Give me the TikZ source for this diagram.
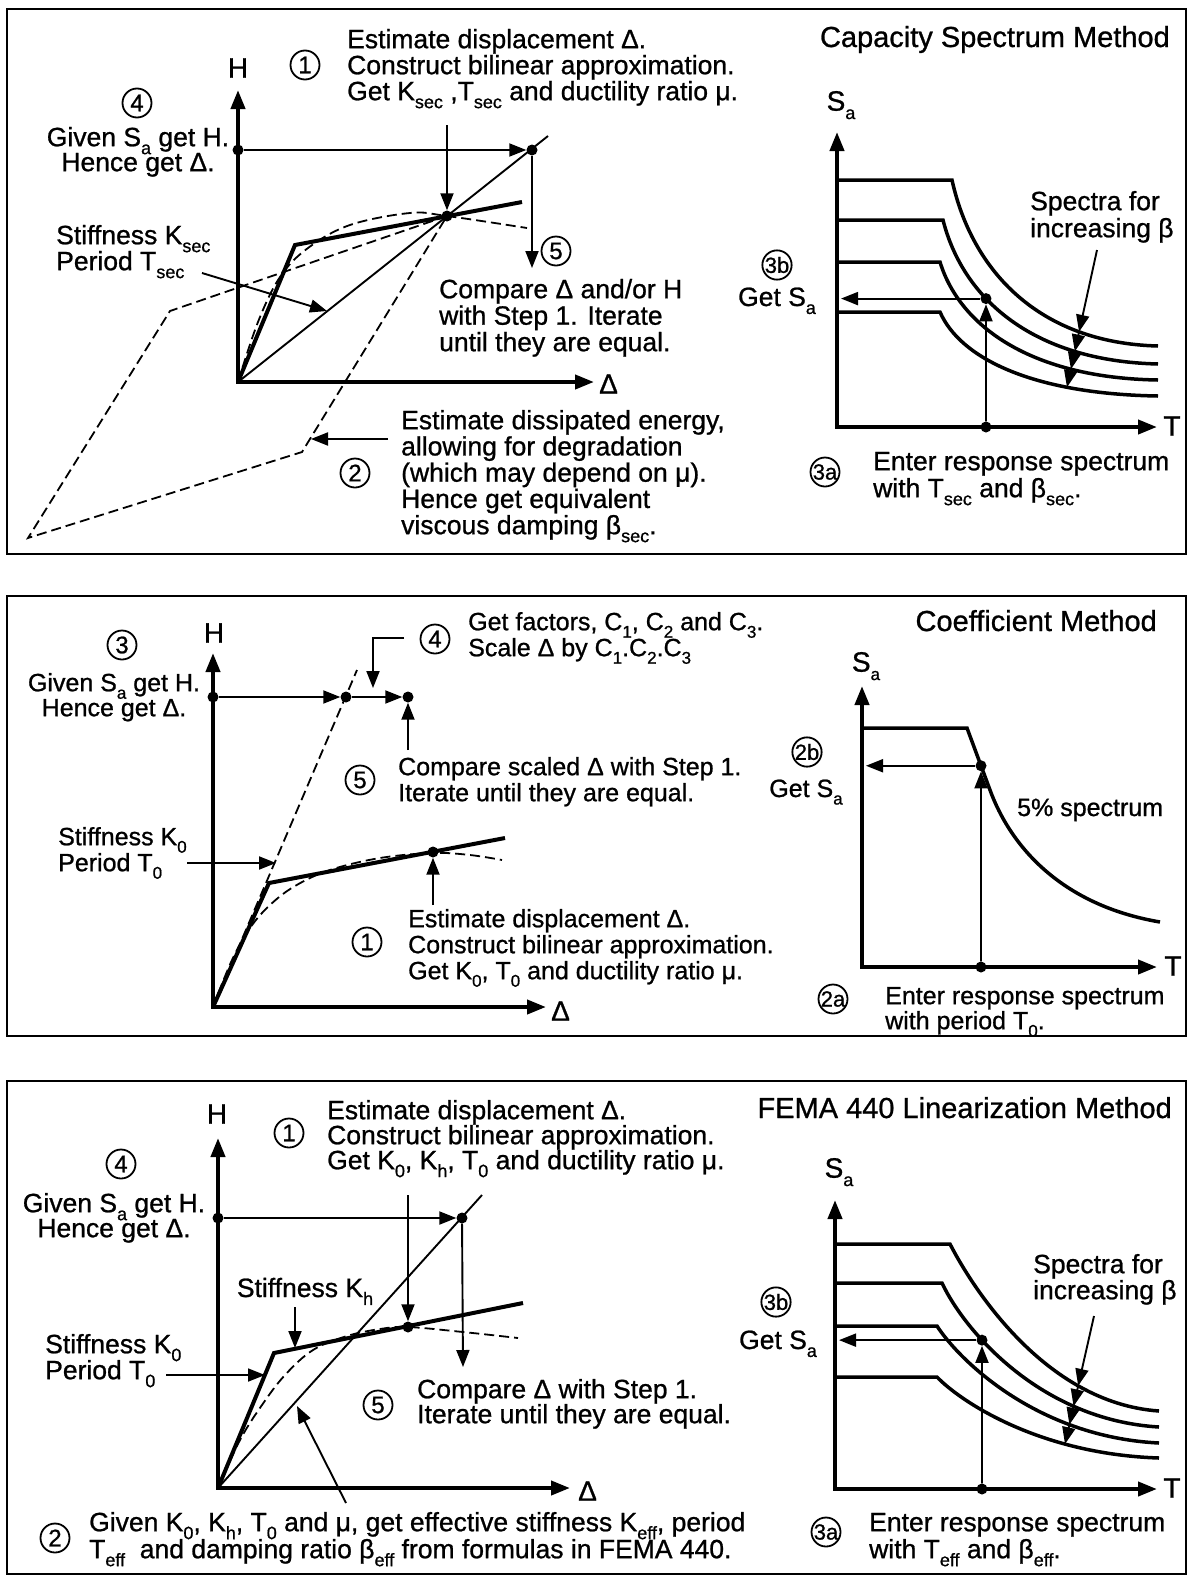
\documentclass[tikz,border=0pt]{standalone}
\usepackage{fontspec}
\setmainfont{Liberation Sans}[FakeBold=0.9]
\usetikzlibrary{arrows.meta,intersections}
\def\tsz{26.5}
\def\ssz{18}
\newcommand\sbs[1]{\raisebox{-0.3em}[0pt][0pt]{\fontsize{\ssz}{\ssz}\selectfont #1}}
\newcommand\st{\rule{0pt}{20pt}}
\begin{document}
\begin{tikzpicture}[x=1pt,y=-1pt,
  frame/.style={line width=2.2pt},
  axis/.style={line width=4pt,line join=miter,{Triangle[length=19pt,width=14pt]}-{Triangle[length=19pt,width=14pt]}},
  arr/.style={line width=1.9pt,-{Triangle[length=17pt,width=13pt]}},
  thinl/.style={line width=1.9pt},
  bil/.style={line width=4pt,line join=miter},
  dsh/.style={line width=1.8pt,dash pattern=on 10pt off 5pt},
  spec/.style={line width=3.5pt},
  dot/.style={circle,fill=black,inner sep=0pt,minimum size=11pt},
  cnum/.style={circle,draw,line width=1.8pt,inner sep=0pt,minimum size=29pt,font=\fontsize{24}{24}\selectfont},
  cnum2/.style={cnum,font=\fontsize{22}{22}\selectfont},
  txt/.style={font=\fontsize{\tsz}{26}\selectfont,inner sep=0pt},
  blk/.style={inner sep=0pt,align=left,anchor=north west,font=\fontsize{\tsz}{#1}\selectfont},
  cblk/.style={inner sep=0pt,align=center,anchor=north,font=\fontsize{\tsz}{#1}\selectfont},
  albl/.style={font=\fontsize{28}{28}\selectfont,inner sep=0pt},
  ttl/.style={font=\fontsize{29}{30}\selectfont,inner sep=0pt},
]
\useasboundingbox (0,0) rectangle (1188,1577);

%================ PANEL 1 =================
\def\tsz{26.5}\def\ssz{18}
\draw[frame] (7,9) rectangle (1186,554);
\coordinate (o1) at (238,382);
\coordinate (h1) at (238,90);
\coordinate (d1) at (594,382);
\draw[dsh] (447,216) -- (170,311) -- (28,538) -- (302,452) -- cycle;
\draw[dsh] plot[smooth,tension=0.6] coordinates {(238,382) (258,322) (280,277) (308,248) (350,225) (410,213) (447,216) (527,228)};
\draw[thinl] (o1) -- (548,136);
\draw[bil] (o1) -- (295,245) -- (522,202);
\draw[axis] (h1) -- (o1) -- (d1);
\node[albl] (H1) at (238,68) {H};
\node[albl,anchor=west] (D1) at (599,384) {Δ};
\node[dot] (hd1) at (238,150) {};
\node[dot] (p1) at (532,150) {};
\node[dot] (q1) at (447,216) {};
\draw[arr] (hd1) -- (p1);
\coordinate (v1s) at (447,125);
\draw[arr] (v1s) -- (q1);
\coordinate (p1e) at (532,268);
\draw[arr] (p1) -- (p1e);
\coordinate (s1a) at (202,273);
\coordinate (s1b) at (327,311);
\draw[arr] (s1a) -- (s1b);
\coordinate (e1a) at (388,439);
\coordinate (e1b) at (311,439);
\draw[arr] (e1a) -- (e1b);

\node[cnum] (n1a) at (305,65) {1};
\node[blk=26] (t1a) at (347,28) {\st Estimate displacement Δ.\\Construct bilinear approximation.\\Get K\sbs{sec} ,T\sbs{sec} and ductility ratio μ.};
\node[cnum] (n1d) at (137,103) {4};
\node[cblk=25] (t1d) at (138,126) {\st Given S\sbs{a} get H.\\Hence get Δ.};
\node[blk=26] (t1f) at (56,224) {\st Stiffness K\sbs{sec}\\Period T\sbs{sec}};
\node[cnum] (n1e) at (556,251) {5};
\node[blk=26.5] (t1h) at (439,278) {\st Compare Δ and/or H\\with Step 1. Iterate\\until they are equal.};
\node[cnum] (n1b) at (355,473) {2};
\node[blk=26.25] (t1k) at (401,409) {\st Estimate dissipated energy,\\allowing for degradation\\(which may depend on μ).\\Hence get equivalent\\viscous damping β\sbs{sec}.};

% right graph
\node[ttl,anchor=base east] (ttl1) at (1170,47) {Capacity Spectrum Method};
\node[albl] (sa1) at (841,101) {S\sbs{a}};
\coordinate (st1) at (837,132);
\coordinate (or1) at (837,427);
\coordinate (tt1) at (1157,427);
\draw[spec,name path=s1a] (837,180) -- (952,180) .. controls (972,271) and (1039,343) .. (1158,346);
\draw[spec,name path=s1b] (837,220) -- (943,220) .. controls (963,299) and (1033,361) .. (1158,364);
\draw[spec,name path=s1c] (837,262) -- (940,262) .. controls (960,327) and (1032,378) .. (1158,380);
\draw[spec,name path=s1d] (837,312) -- (940,312) .. controls (960,358) and (1032,394) .. (1158,396);
\draw[axis] (st1) -- (or1) -- (tt1);
\node[albl] (T1) at (1172,426) {T};
\path[name path=v1] (986,427) -- (986,150);
\path[name intersections={of=s1b and v1,by=i1}];
\node[dot] (sd1) at (i1) {};
\node[dot] (td1) at (986,427) {};
\draw[arr] (td1) -- (sd1);
\coordinate (ax1) at (841,200);
\draw[arr] (sd1) -- (sd1 -| ax1);
\path[name path=ar1] (1097,250) -- (1062,410);
\path[name intersections={of=s1a and ar1,by=k1a}];
\path[name intersections={of=s1b and ar1,by=k1b}];
\path[name intersections={of=s1c and ar1,by=k1c}];
\path[name intersections={of=s1d and ar1,by=k1d}];
\coordinate (ar1s) at (1097,250);
\draw[arr] (ar1s) -- (k1a);
\draw[arr] (k1a) -- (k1b);
\draw[arr] (k1b) -- (k1c);
\draw[arr] (k1c) -- (k1d);
\node[blk=27] (t1p) at (1030,190) {\st Spectra for\\increasing β};
\node[cnum2] (n1f) at (777,265) {3b};
\node[txt,anchor=base] (t1r) at (777,306) {Get S\sbs{a}};
\node[cnum2] (n1g) at (825,472) {3a};
\node[blk=27] (t1s) at (873,450) {\st Enter response spectrum\\with T\sbs{sec} and β\sbs{sec}.};

%================ PANEL 2 =================
\def\tsz{25}\def\ssz{17}
\draw[frame] (7,596) rectangle (1186,1036);
\coordinate (o2) at (213,1007);
\coordinate (h2) at (213,653);
\coordinate (d2) at (546,1007);
\coordinate (k2t) at (357,670);
\draw[dsh] (o2) -- (k2t);
\draw[dsh] plot[smooth,tension=0.6] coordinates {(213,1007) (232,960) (250,928) (270,905) (295,886) (330,870) (380,858) (433,853) (470,855) (502,860)};
\draw[bil] (o2) -- (269,883) -- (505,838);
\draw[axis] (h2) -- (o2) -- (d2);
\node[albl] (H2) at (214,633) {H};
\node[albl,anchor=west] (D2) at (551,1011) {Δ};
\node[dot] (hd2) at (213,697) {};
\node[dot] (p2a) at (346,697) {};
\node[dot] (p2b) at (408,697) {};
\node[dot] (q2) at (433,852) {};
\draw[arr] (hd2) -- (p2a);
\draw[arr] (p2a) -- (p2b);
\coordinate (b2a) at (404,638);
\coordinate (b2b) at (373,638);
\coordinate (b2c) at (373,688);
\draw[arr] (b2a) -- (b2b) -- (b2c);
\coordinate (u2) at (408,750);
\draw[arr] (u2) -- (p2b);
\coordinate (s2a) at (187,863);
\coordinate (s2b) at (276,863);
\draw[arr] (s2a) -- (s2b);
\coordinate (u2b) at (433,905);
\draw[arr] (u2b) -- (q2);

\node[cnum] (n2c) at (122,645) {3};
\node[cblk=25] (t2a) at (114,671) {\st Given S\sbs{a} get H.\\Hence get Δ.};
\node[cnum] (n2d) at (435,639) {4};
\node[blk=26] (t2c) at (468,610) {\st Get factors, C\sbs{1}, C\sbs{2} and C\sbs{3}.\\Scale Δ by C\sbs{1}.C\sbs{2}.C\sbs{3}};
\node[cnum] (n2e) at (360,780) {5};
\node[blk=26] (t2e) at (398,755) {\st Compare scaled Δ with Step 1.\\Iterate until they are equal.};
\node[blk=26] (t2g) at (58,825) {\st Stiffness K\sbs{0}\\Period T\sbs{0}};
\node[cnum] (n2a) at (367,942) {1};
\node[blk=26] (t2i) at (408,907) {\st Estimate displacement Δ.\\Construct bilinear approximation.\\Get K\sbs{0}, T\sbs{0} and ductility ratio μ.};

% right graph
\node[ttl,anchor=base east] (ttl2) at (1157,631) {Coefficient Method};
\node[albl] (sa2) at (866,662) {S\sbs{a}};
\coordinate (st2) at (862,686);
\coordinate (or2) at (862,967);
\coordinate (tt2) at (1157,967);
\draw[spec,name path=s2] (862,728) -- (967,728) -- (990,790) .. controls (1010,845) and (1060,905) .. (1160,922);
\draw[axis] (st2) -- (or2) -- (tt2);
\node[albl] (T2) at (1173,966) {T};
\path[name path=v2] (981,967) -- (981,700);
\path[name intersections={of=s2 and v2,by=i2}];
\node[dot] (sd2) at (i2) {};
\node[dot] (td2) at (981,967) {};
\draw[arr] (td2) -- (sd2);
\coordinate (ax2) at (866,700);
\draw[arr] (sd2) -- (sd2 -| ax2);
\node[cnum2] (n2f) at (807,752) {2b};
\node[txt,anchor=base] (t2l) at (806,797) {Get S\sbs{a}};
\node[txt,anchor=base west] (t2m) at (1017,816) {5\% spectrum};
\node[cnum2] (n2g) at (833,999) {2a};
\node[blk=25] (t2n) at (885,984) {\st Enter response spectrum\\with period T\sbs{0}.};

%================ PANEL 3 =================
\def\tsz{26.5}\def\ssz{18}
\draw[frame] (7,1081) rectangle (1186,1574);
\coordinate (o3) at (218,1488);
\coordinate (h3) at (218,1138);
\coordinate (d3) at (570,1488);
\draw[thinl] (o3) -- (482,1195);
\draw[dsh] plot[smooth,tension=0.6] coordinates {(218,1488) (240,1440) (262,1405) (285,1375) (313,1350) (347,1336) (380,1329) (408,1327) (463,1332) (518,1338)};
\draw[bil] (o3) -- (274,1353) -- (523,1303);
\draw[axis] (h3) -- (o3) -- (d3);
\node[albl] (H3) at (217,1114) {H};
\node[albl,anchor=west] (D3) at (578,1491) {Δ};
\node[dot] (hd3) at (218,1218) {};
\node[dot] (p3) at (462,1218) {};
\node[dot] (q3) at (408,1327) {};
\draw[arr] (hd3) -- (p3);
\coordinate (v3s) at (408,1195);
\draw[arr] (v3s) -- (q3);
\coordinate (p3e) at (463,1367);
\draw[arr] (p3) -- (p3e);
\coordinate (kh3a) at (295,1307);
\coordinate (kh3b) at (295,1348);
\draw[arr] (kh3a) -- (kh3b);
\coordinate (k03a) at (166,1375);
\coordinate (k03b) at (265,1375);
\draw[arr] (k03a) -- (k03b);
\coordinate (e3a) at (346,1503);
\coordinate (e3b) at (297,1406);
\draw[arr] (e3a) -- (e3b);

\node[cnum] (n3a) at (289,1133) {1};
\node[blk=25] (t3a) at (327,1099) {\st Estimate displacement Δ.\\Construct bilinear approximation.\\Get K\sbs{0}, K\sbs{h}, T\sbs{0} and ductility ratio μ.};
\node[cnum] (n3d) at (121,1164) {4};
\node[cblk=25] (t3d) at (114,1192) {\st Given S\sbs{a} get H.\\Hence get Δ.};
\node[txt,anchor=base] (t3f) at (305,1297) {Stiffness K\sbs{h}};
\node[blk=26] (t3g) at (45,1333) {\st Stiffness K\sbs{0}\\Period T\sbs{0}};
\node[cnum] (n3e) at (378,1405) {5};
\node[blk=25] (t3i) at (417,1378) {\st Compare Δ with Step 1.\\Iterate until they are equal.};
\node[cnum] (n3b) at (55,1538) {2};
\node[blk=27] (t3k) at (89,1511) {\st Given K\sbs{0}, K\sbs{h}, T\sbs{0} and μ, get effective stiffness K\sbs{eff}, period\\T\sbs{eff}\ \ and damping ratio β\sbs{eff} from formulas in FEMA 440.};

% right graph
\node[ttl,anchor=base east] (ttl3) at (1172,1118) {FEMA 440 Linearization Method};
\node[albl] (sa3) at (839,1168) {S\sbs{a}};
\coordinate (st3) at (835,1200);
\coordinate (or3) at (835,1489);
\coordinate (tt3) at (1157,1489);
\draw[spec,name path=s3a] (835,1244) -- (950,1244) .. controls (971,1285) and (1044,1403) .. (1159,1411);
\draw[spec,name path=s3b] (835,1283) -- (942,1283) .. controls (964,1330) and (1040,1420) .. (1159,1427);
\draw[spec,name path=s3c] (835,1326) -- (937,1326) .. controls (959,1360) and (1037,1437) .. (1159,1443);
\draw[spec,name path=s3d] (835,1377) -- (937,1377) .. controls (959,1400) and (1037,1454) .. (1159,1458);
\draw[axis] (st3) -- (or3) -- (tt3);
\node[albl] (T3) at (1172,1488) {T};
\path[name path=v3] (982,1489) -- (982,1220);
\path[name intersections={of=s3b and v3,by=i3}];
\node[dot] (sd3) at (i3) {};
\node[dot] (td3) at (982,1489) {};
\draw[arr] (td3) -- (sd3);
\coordinate (ax3) at (839,1250);
\draw[arr] (sd3) -- (sd3 -| ax3);
\path[name path=ar3] (1094,1316) -- (1058,1475);
\path[name intersections={of=s3a and ar3,by=k3a}];
\path[name intersections={of=s3b and ar3,by=k3b}];
\path[name intersections={of=s3c and ar3,by=k3c}];
\path[name intersections={of=s3d and ar3,by=k3d}];
\coordinate (ar3s) at (1094,1316);
\draw[arr] (ar3s) -- (k3a);
\draw[arr] (k3a) -- (k3b);
\draw[arr] (k3b) -- (k3c);
\draw[arr] (k3c) -- (k3d);
\node[blk=26] (t3m) at (1033,1253) {\st Spectra for\\increasing β};
\node[cnum2] (n3f) at (776,1302) {3b};
\node[txt,anchor=base] (t3o) at (778,1349) {Get S\sbs{a}};
\node[cnum2] (n3g) at (826,1532) {3a};
\node[blk=27] (t3p) at (869,1511) {\st Enter response spectrum\\with T\sbs{eff} and β\sbs{eff}.};
\end{tikzpicture}
\end{document}
